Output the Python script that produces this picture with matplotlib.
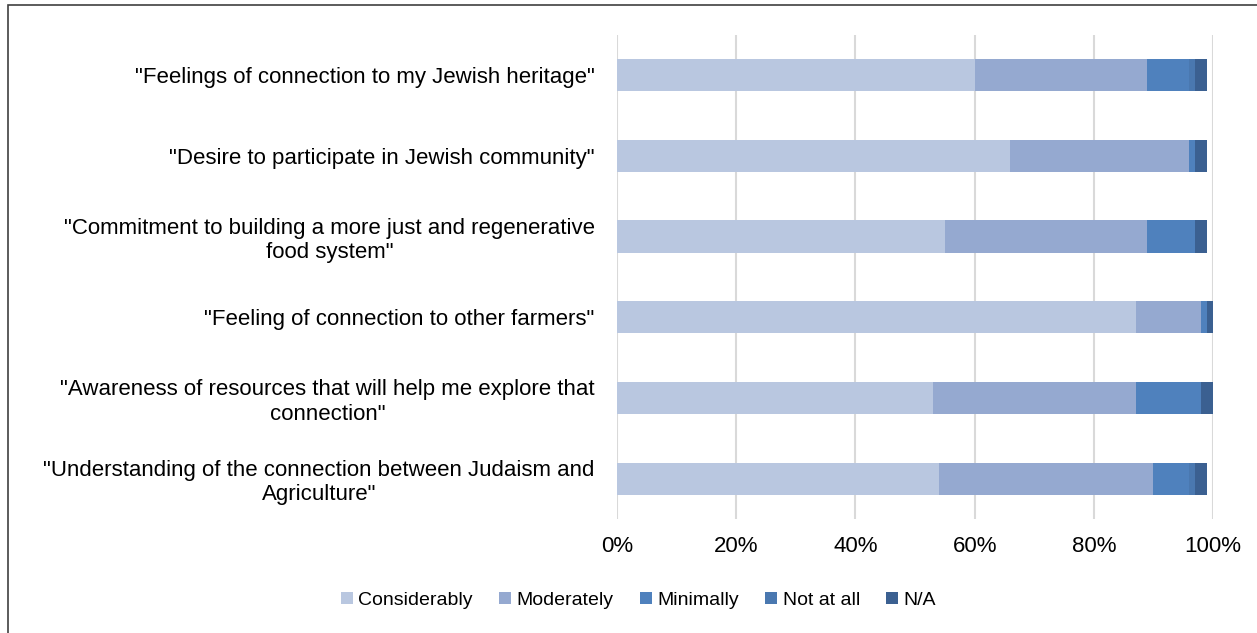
import matplotlib.pyplot as plt
import numpy as np
from matplotlib.patches import Rectangle

plt.rcParams['font.family'] = ['Liberation Sans', 'DejaVu Sans']

# Data (percent of respondents)
statements = [
    '"Feelings of connection to my Jewish heritage"',
    '"Desire to participate in Jewish community"',
    '"Commitment to building a more just and regenerative\nfood system"',
    '"Feeling of connection to other farmers"',
    '"Awareness of resources that will help me explore that\nconnection"',
    '"Understanding of the connection between Judaism and\nAgriculture"',
]
considerably = [60, 66, 55, 87, 53, 54]
moderately = [29, 30, 34, 11, 34, 36]
minimally = [7, 1, 8, 1, 11, 6]
not_at_all = [1, 0, 0, 0, 0, 1]
na = [2, 2, 2, 1, 2, 2]

series = [considerably, moderately, minimally, not_at_all, na]
names = ["Considerably", "Moderately", "Minimally", "Not at all", "N/A"]
colors = ["#B9C7E0", "#95A9D0", "#4F81BD", "#4A78B0", "#3B6091"]

fig = plt.figure(figsize=(12.57, 6.33), dpi=100)
ax = fig.add_axes([0.4909, 0.180, 0.4741, 0.765])

y = np.arange(len(statements))
left = np.zeros(len(statements))
for vals, name, col in zip(series, names, colors):
    ax.barh(y, vals, left=left, height=0.4, color=col, label=name, zorder=3)
    left += np.array(vals)

ax.set_ylim(len(statements) - 0.5, -0.5)
ax.set_xlim(0, 100)
ax.set_xticks(range(0, 101, 20))
ax.set_xticklabels([f"{v}%" for v in range(0, 101, 20)], fontsize=16)
ax.set_yticks(y)
ax.set_yticklabels(statements, fontsize=16, linespacing=1.2)
for lab in ax.get_yticklabels():
    lab.set_multialignment('center')
ax.tick_params(axis='y', length=0, pad=16)
ax.tick_params(axis='x', length=0, pad=12)
ax.grid(axis='x', color='#D9D9D9', linewidth=1.5, zorder=0)
for s in ax.spines.values():
    s.set_visible(False)

ax.legend(loc='center', bbox_to_anchor=(0.508, 0.052), bbox_transform=fig.transFigure,
          ncol=5, frameon=False, fontsize=14, handlelength=0.6, handleheight=0.6,
          handletextpad=0.3, columnspacing=1.35)

fig.patches.append(Rectangle((8 / 1257, -0.01), 1.05, 1 - 5 / 633 + 0.01, transform=fig.transFigure,
                             fill=False, edgecolor='#404040', linewidth=1.2))

fig.savefig("out.png", dpi=100)
